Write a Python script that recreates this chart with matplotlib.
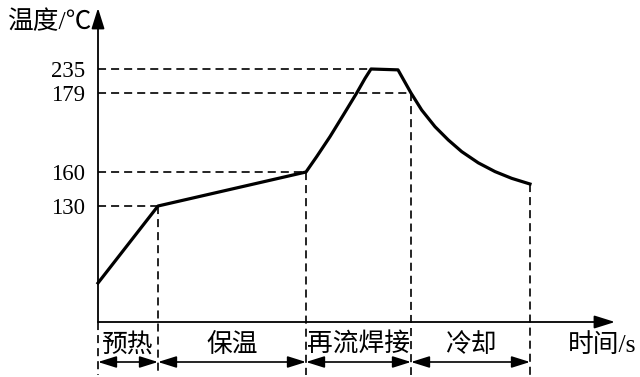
import numpy as np
import matplotlib.pyplot as plt

# reflow soldering profile (schematic)
curve_t = [0, 60, 208, 218.7, 232, 245.3, 258.7, 267, 273, 300, 313,
           323.7, 337, 350.3, 363.7, 380.3, 397, 413.7, 432]
curve_T = [25, 130, 160, 163.7, 168.5, 173.7, 179, 213, 235, 233, 179,
           174.9, 170.9, 167.7, 164.9, 162.2, 160.1, 154.4, 149.4]

tick_T = [130, 160, 179, 235]
tick_end_t = [60, 208, 313, 273]        # where each guide line meets the curve

stage_t = [0, 60, 208, 313, 432]
stage_T = [0, 130, 160, 179, 149.4]
stage_names = ['预热', '保温', '再流焊接', '冷却']

# the temperature axis is not to scale: piecewise map temperature -> height
warp_T = [-100, 0, 25, 130, 160, 179, 235, 400]
warp_h = [-45, 55, 94, 171, 205, 284, 308, 387]

plt.rcParams['font.family'] = ['Liberation Serif', 'Noto Sans CJK SC']
plt.rcParams['font.size'] = 16.5
plt.rcParams['lines.scale_dashes'] = False
cjk_size = 18.5

fwd = lambda v: np.interp(v, warp_T, warp_h)
inv = lambda v: np.interp(v, warp_h, warp_T)

fig = plt.figure(figsize=(6.4, 3.77), dpi=100)
ax = fig.add_axes([0, 0, 1, 1])
ax.set_yscale('function', functions=(fwd, inv))
ax.set_xlim(-98, 542)
ax.set_ylim(inv(0), inv(377))

for s in ax.spines.values():
    s.set_visible(False)
ax.spines['left'].set_position(('data', 0))
ax.set_xticks([])
ax.set_yticks(tick_T)
ax.set_yticklabels([str(v) for v in tick_T])
ax.tick_params(axis='y', length=0, pad=9)
ax.minorticks_off()

dash = (0, (5.8, 3.6))
k = 'black'

# axes with arrows
ax.annotate('', xy=(0, inv(369)), xytext=(0, 0),
            arrowprops=dict(arrowstyle='-|>,head_length=0.7,head_width=0.22',
                            mutation_scale=18, lw=1.3, color=k, shrinkA=0, shrinkB=0))
ax.annotate('', xy=(517, 0), xytext=(0, 0),
            arrowprops=dict(arrowstyle='-|>,head_length=0.7,head_width=0.22',
                            mutation_scale=18, lw=1.3, color=k, shrinkA=0, shrinkB=0))

# guide lines
bottom = inv(2)
for T, te in zip(tick_T, tick_end_t):
    ax.plot([0, te], [T, T], color=k, lw=1.2, ls=dash)
for t, T in zip(stage_t, stage_T):
    ax.plot([t, t], [T, bottom], color=k, lw=1.2, ls=dash)

# profile
ax.plot(curve_t, curve_T, color=k, lw=2.3, solid_joinstyle='round')

# stages
xt = ax.get_xaxis_transform()
for t0, t1, name in zip(stage_t[:-1], stage_t[1:], stage_names):
    ax.text((t0 + t1) / 2, 1 - 345 / 377, name, transform=xt, ha='center', va='center',
            fontsize=cjk_size)
    ax.annotate('', xy=(t1, 1 - 362 / 377), xytext=(t0, 1 - 362 / 377), xycoords=xt,
                arrowprops=dict(arrowstyle='<|-|>,head_length=0.7,head_width=0.22',
                                mutation_scale=16, lw=1.2, color=k, shrinkA=0, shrinkB=0))

fig.text(8 / 640, 1 - 22 / 377, '温度/℃', va='center', ha='left', fontsize=cjk_size)
fig.text(568 / 640, 1 - 345 / 377, '时间/s', va='center', ha='left', fontsize=cjk_size)

plt.savefig('out.png', dpi=100)
plt.close()
